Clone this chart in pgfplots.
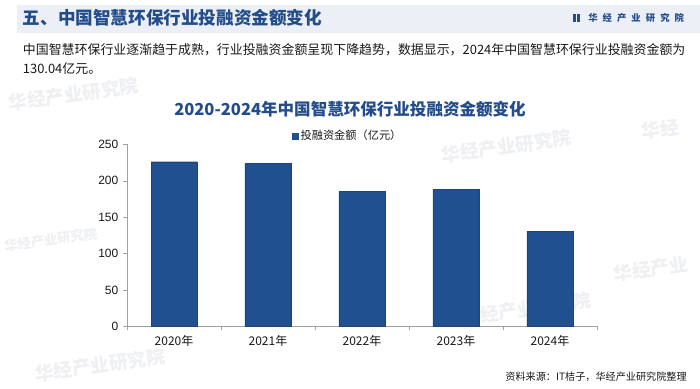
\documentclass[border=0pt]{standalone}
\usepackage{pgfplots}
\pgfplotsset{compat=1.18}
\usepackage{fontspec}
\setmainfont{Noto Sans CJK SC}
\newfontfamily\arial{Liberation Sans}
\definecolor{barblue}{RGB}{33,80,145}
\definecolor{titleblue}{RGB}{34,76,138}
\definecolor{bandgray}{RGB}{236,240,246}
\definecolor{axgray}{RGB}{160,160,160}
\definecolor{txt}{RGB}{25,25,25}
\definecolor{wm}{RGB}{239,240,244}
\begin{document}
\begin{tikzpicture}
\useasboundingbox (0,0) rectangle (525pt,291.75pt);
\fill[white] (0,0) rectangle (525pt,291.75pt);
% watermarks
\begin{scope}[every node/.style={text=wm,font=\bfseries\fontsize{14pt}{14pt}\selectfont,rotate=8,inner sep=0pt}]
\node at (55pt,221pt) {华经产业研究院};
\node[font=\bfseries\fontsize{10pt}{10pt}\selectfont] at (38pt,112pt) {华经产业研究院};
\node at (380pt,182pt) {华经产业研究院};
\node at (395pt,60pt) {华经产业研究院};
\node at (75pt,18pt) {华经产业研究院};
\node at (495pt,195pt) {华经};
\node at (488pt,90pt) {华经产业};
\end{scope}
% header band
\fill[bandgray] (12.75pt,288pt) rectangle (525pt,267pt);
\node[anchor=west,inner sep=0pt,text=titleblue,font=\bfseries\fontsize{13.2pt}{14pt}\selectfont] at (17pt,278.5pt) {五、中国智慧环保行业投融资金额变化};
\fill[titleblue] (430pt,275.5pt) rectangle (431.8pt,281.5pt);
\fill[titleblue] (433pt,275.5pt) rectangle (434.8pt,281.5pt);
\node[anchor=west,inner sep=0pt,text=titleblue,font=\bfseries\fontsize{7pt}{8pt}\selectfont] at (441pt,278.5pt) {华\hspace{3.8pt}经\hspace{3.8pt}产\hspace{3.8pt}业\hspace{3.8pt}研\hspace{3.8pt}究\hspace{3.8pt}院};
% paragraph
\node[anchor=west,inner sep=0pt,text=txt,font=\fontsize{9.7pt}{11pt}\selectfont] at (17pt,254.25pt) {中国智慧环保行业逐渐趋于成熟，行业投融资金额呈现下降趋势，数据显示，2024年中国智慧环保行业投融资金额为};
\node[anchor=west,inner sep=0pt,text=txt,font=\fontsize{9.7pt}{11pt}\selectfont] at (17pt,240.5pt) {130.04亿元。};
% chart title
\node[inner sep=0pt,text=titleblue,font=\bfseries\fontsize{12.4pt}{14pt}\selectfont] at (262.5pt,210pt) {2020-2024年中国智慧环保行业投融资金额变化};
% source
\node[anchor=east,inner sep=0pt,text=txt,font=\fontsize{7.6pt}{9pt}\selectfont] at (515.25pt,9pt) {资料来源：IT桔子，华经产业研究院整理};
\begin{axis}[
  at={(95.25pt,47pt)}, anchor=south west,
  scale only axis, width=352.5pt, height=136.5pt,
  xmin=-0.5, xmax=4.5, ymin=0, ymax=250,
  axis lines*=left,
  axis line style={draw=axgray},
  ytick={0,50,100,150,200,250},
  xtick={0,1,2,3,4},
  xticklabels={2020年,2021年,2022年,2023年,2024年},
  xticklabel style={font=\fontsize{9pt}{10pt}\selectfont,text=txt},
  y tick label style={font=\arial\fontsize{9pt}{10pt}\selectfont,text=txt},
  /pgf/number format/assume math mode=true,
  tick align=outside,
  major tick length=3pt,
  minor tick length=3pt,
  major x tick style={draw=none},
  minor xtick={-0.5,0.5,1.5,2.5,3.5,4.5},
  minor x tick style={draw=axgray},
  y tick style={draw=axgray},
  ybar, bar width=34.5pt,
  legend style={at={(0.47,1.045)}, anchor=center, draw=none, fill=none,
    font=\fontsize{8.4pt}{9pt}\selectfont, text=txt, inner sep=0pt},
  legend image code/.code={\fill[barblue] (0pt,-2.2pt) rectangle (4.4pt,2.2pt);},
  legend cell align=left,
]
\addplot[fill=barblue, draw=barblue!85!black, line width=0.3pt] coordinates {(0,226.1) (1,223.4) (2,185.4) (3,188.2) (4,130.04)};
\addlegendentry{投融资金额（亿元）}
\end{axis}
\end{tikzpicture}
\end{document}
